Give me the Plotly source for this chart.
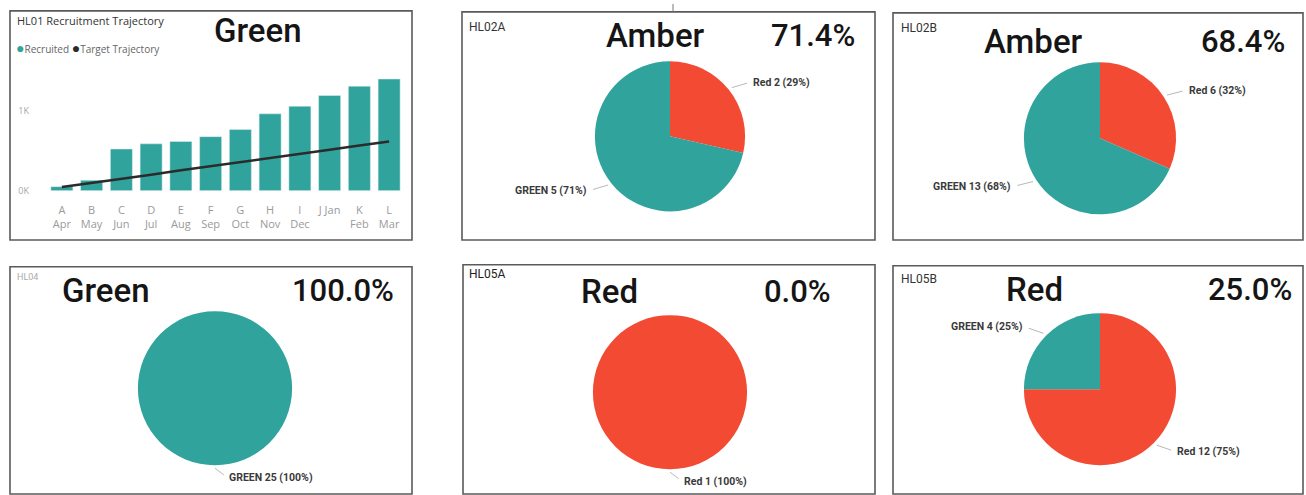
import math
import plotly.graph_objects as go

W, H = 1306, 495

# ---------------- data ----------------
months = ["A<br>Apr", "B<br>May", "C<br>Jun", "D<br>Jul", "E<br>Aug", "F<br>Sep",
          "G<br>Oct", "H<br>Nov", "I<br>Dec", "J Jan", "K<br>Feb", "L<br>Mar"]
recruited = [50, 130, 520, 585, 615, 675, 765, 960, 1055, 1190, 1305, 1395]
target = [45, 95, 150, 200, 255, 305, 355, 410, 460, 510, 565, 615]
y_tickvals = [0, 1000]
y_ticktext = ["0K", "1K"]

pie_labels = ["Red", "GREEN"]
hl02a_vals = [2, 5]
hl02b_vals = [6, 13]
hl04_vals = [0, 25]
hl05a_vals = [1, 0]
hl05b_vals = [12, 4]

panel_ids = ["HL02A", "HL02B", "HL04", "HL05A", "HL05B"]
statuses = ["Green", "Amber", "Amber", "Green", "Red", "Red"]
percents = ["71.4%", "68.4%", "100.0%", "0.0%", "25.0%"]

TEAL = "#2fa39c"
RED = "#f24a33"
pie_colors = [RED, TEAL]


def px(x):
    return x / W


def py(y):
    return 1 - y / H


fig = go.Figure()

# ---------------- HL01 bar chart ----------------
fig.add_trace(go.Bar(x=months, y=recruited, marker_color=TEAL, name="Recruited",
                     showlegend=False, hoverinfo="skip"))
fig.add_trace(go.Scatter(x=months, y=target, mode="lines", name="Target Trajectory",
                         line=dict(color="#2b2b2b", width=2.5), showlegend=False,
                         hoverinfo="skip"))

fig.update_layout(
    xaxis=dict(domain=[px(47), px(404)], showgrid=False, zeroline=False, showline=False,
               ticks="", tickfont=dict(family="Open Sans", size=11, color="#9a9a9a"),
               ticklabelstandoff=11, anchor="y"),
    yaxis=dict(domain=[py(193), py(71.5)], range=[0, 1500], showgrid=False, zeroline=False,
               showline=False, tickvals=y_tickvals, ticktext=y_ticktext, ticks="",
               tickfont=dict(family="Open Sans", size=9, color="#a8a8a8"),
               ticklabelstandoff=17, anchor="x"),
    bargap=0.26,
)

annotations = []
shapes = []

# ---------------- pies ----------------
pies = [
    # values, center x, center y, radius
    (hl02a_vals, 670, 138, 76),
    (hl02b_vals, 1100, 140, 77),
    (hl04_vals, 215, 393, 78),
    (hl05a_vals, 670, 397, 78),
    (hl05b_vals, 1100, 394, 77),
]

for vals, cx, cy, r in pies:
    fig.add_trace(go.Pie(
        labels=pie_labels, values=vals, sort=False, direction="clockwise", rotation=0,
        marker=dict(colors=pie_colors, line=dict(width=0)),
        textinfo="none", hoverinfo="skip", showlegend=False,
        domain=dict(x=[px(cx - r), px(cx + r)], y=[py(cy + r), py(cy - r)]),
    ))
    total = sum(vals)
    start = 0.0
    for lab, v in zip(pie_labels, vals):
        if v == 0:
            continue
        frac = v / total
        mid = (start + frac / 2) * 2 * math.pi
        start += frac
        sx, cyy = math.sin(mid), math.cos(mid)
        if abs(sx) < 1e-9:
            sx = 0.0
        hx, hy = cx + (r + 3) * sx, cy - (r + 3) * cyy
        tx, ty = cx + (r + 12) * sx, cy - (r + 12) * cyy
        right = sx >= 0
        tx += 12 if right else -12
        annotations.append(dict(
            x=px(hx), y=py(hy), xref="paper", yref="paper",
            ax=tx - hx, ay=ty - hy, axref="pixel", ayref="pixel",
            showarrow=True, arrowhead=0, arrowwidth=1, arrowcolor="#b8b8b8",
            startstandoff=4, standoff=0,
            text=f"<b>{lab} {v} ({round(frac * 100)}%)</b>",
            xanchor="left" if right else "right", yanchor="middle",
            font=dict(family="Roboto", size=10.5, color="#3a3a3a"),
        ))

# ---------------- panel borders ----------------
boxes = [(10, 11, 412, 243), (462, 12, 875, 243), (893, 13, 1303, 243),
         (10, 270, 412, 500), (463, 268, 875, 500), (893, 269, 1303, 500)]
for x0, y0, x1, y1 in boxes:
    shapes.append(dict(type="rect", xref="paper", yref="paper",
                       x0=px(x0), x1=px(x1), y0=py(y1), y1=py(y0),
                       line=dict(color="#5a5a5a", width=1.6), fillcolor="rgba(0,0,0,0)"))
shapes.append(dict(type="line", xref="paper", yref="paper", x0=px(673), x1=px(673),
                   y0=py(12), y1=py(4), line=dict(color="#777", width=1)))

# ---------------- texts ----------------
annotations.append(dict(x=px(15), y=py(21), xref="paper", yref="paper", showarrow=False,
                        xanchor="left", yanchor="middle", text="HL01 Recruitment Trajectory",
                        font=dict(family="Open Sans", size=11, color="#333")))
annotations.append(dict(x=px(14), y=py(48), xref="paper", yref="paper", showarrow=False,
                        xanchor="left", yanchor="middle",
                        text=f"<span style='color:{TEAL};font-size:14px'>●</span>Recruited "
                             f"<span style='color:#2b2b2b;font-size:14px'>●</span>Target Trajectory",
                        font=dict(family="Open Sans", size=10, color="#666")))

id_pos = [(467, 27, "#333", 12), (899, 28, "#333", 12), (15, 280, "#aaa", 9),
          (467, 277, "#222", 12), (899, 282, "#333", 12)]
for pid, (x, y, c, s) in zip(panel_ids, id_pos):
    annotations.append(dict(x=px(x), y=py(y), xref="paper", yref="paper", showarrow=False,
                            xanchor="left", yanchor="middle", text=pid,
                            font=dict(family="Roboto", size=s, color=c)))

status_pos = [(258, 31), (656, 36), (1033, 42), (106, 294), (609, 295), (1034, 293)]
for st, (x, y) in zip(statuses, status_pos):
    annotations.append(dict(x=px(x), y=py(y), xref="paper", yref="paper", showarrow=False,
                            xanchor="center", yanchor="middle", text=st,
                            font=dict(family="Roboto", size=33, color="#151515", weight=500)))

pct_pos = [(813, 36), (1243, 42), (343, 294), (797, 295), (1250, 293)]
for pc, (x, y) in zip(percents, pct_pos):
    annotations.append(dict(x=px(x), y=py(y), xref="paper", yref="paper", showarrow=False,
                            xanchor="center", yanchor="middle", text=pc,
                            font=dict(family="Roboto", size=31, color="#151515", weight=500)))

fig.update_layout(
    width=W, height=H, margin=dict(l=0, r=0, t=0, b=0),
    paper_bgcolor="white", plot_bgcolor="white",
    annotations=annotations, shapes=shapes, showlegend=False,
)

fig.write_html("out.html", config={"displayModeBar": False})
